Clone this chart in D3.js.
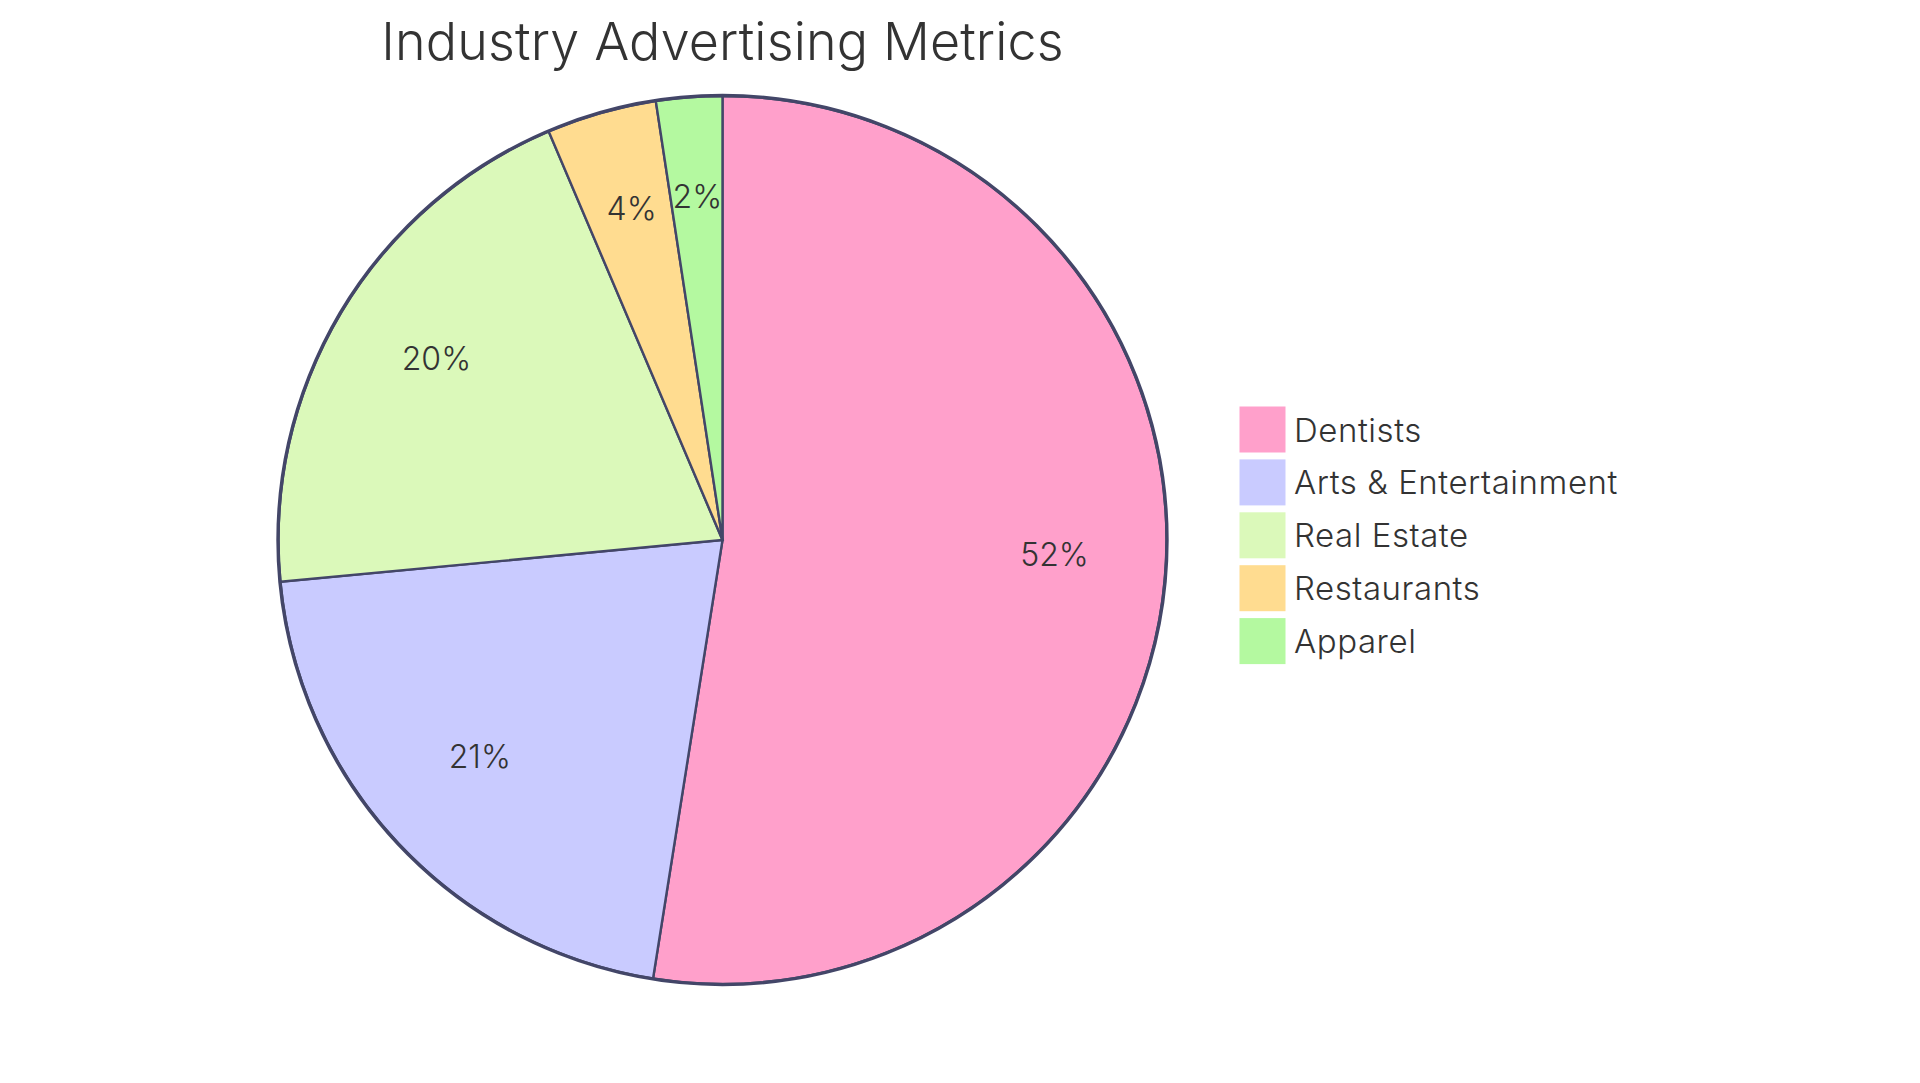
<!DOCTYPE html>
<html>
<head>
<meta charset="utf-8">
<script src="https://cdn.jsdelivr.net/npm/d3@7"></script>
<style>
  body { margin: 0; background: #fff; }
  text { font-family: Inter, "Noto Sans", sans-serif; fill: #333; }
</style>
</head>
<body>
<svg width="1920" height="1083"></svg>
<script>
const categories = ['Dentists', 'Arts & Entertainment', 'Real Estate', 'Restaurants', 'Apparel']
const values = [52.5, 21, 20.1, 4, 2.4]
const percentLabels = ['52%', '21%', '20%', '4%', '2%']
const colors = ['#ffa0cb', '#c9cbff', '#dbf9ba', '#ffdc90', '#b4f9a0']
const title = 'Industry Advertising Metrics'

let svg = d3.select('svg')
let cx = 722.5, cy = 540, radius = 444

let rows = categories.map((name, i) => ({name, value: values[i], label: percentLabels[i], color: colors[i]}))

let pie = d3.pie().sort(null).value(d => d.value)
let arc = d3.arc().innerRadius(0).outerRadius(radius)
let labelArc = d3.arc().innerRadius(radius * 0.75).outerRadius(radius * 0.75)

let g = svg.append('g').attr('transform', `translate(${cx},${cy})`)

g.selectAll('path')
  .data(pie(rows))
  .enter().append('path')
    .attr('d', arc)
    .attr('fill', d => d.data.color)
    .attr('stroke', '#434668')
    .attr('stroke-width', 2.4)

g.append('circle')
  .attr('r', radius + 0.5)
  .attr('fill', 'none')
  .attr('stroke', '#434668')
  .attr('stroke-width', 3.4)

// labels sit a bit above the arc centroid in the reference
g.selectAll('text')
  .data(pie(rows))
  .enter().append('text')
    .attr('transform', d => {
      let [x, y] = labelArc.centroid(d)
      return `translate(${x},${y - 11.5})`
    })
    .attr('text-anchor', 'middle')
    .attr('dominant-baseline', 'central')
    .attr('font-size', 32)
    .attr('font-weight', 300)
    .text(d => d.data.label)

svg.append('text')
  .attr('x', cx)
  .attr('y', 60)
  .attr('text-anchor', 'middle')
  .attr('font-size', 52)
  .attr('font-weight', 300)
  .attr('letter-spacing', 0.15)
  .text(title)

let legend = svg.selectAll('.legend')
  .data(rows)
  .enter().append('g')
    .attr('class', 'legend')
    .attr('transform', (d, i) => `translate(1239.5,${406.5 + i * 52.9})`)

legend.append('rect')
  .attr('width', 46)
  .attr('height', 46)
  .attr('fill', d => d.color)

legend.append('text')
  .attr('x', 54.5)
  .attr('y', 23)
  .attr('dominant-baseline', 'central')
  .attr('font-size', 33)
  .attr('font-weight', 300)
  .attr('letter-spacing', 0.55)
  .text(d => d.name)
</script>
</body>
</html>
